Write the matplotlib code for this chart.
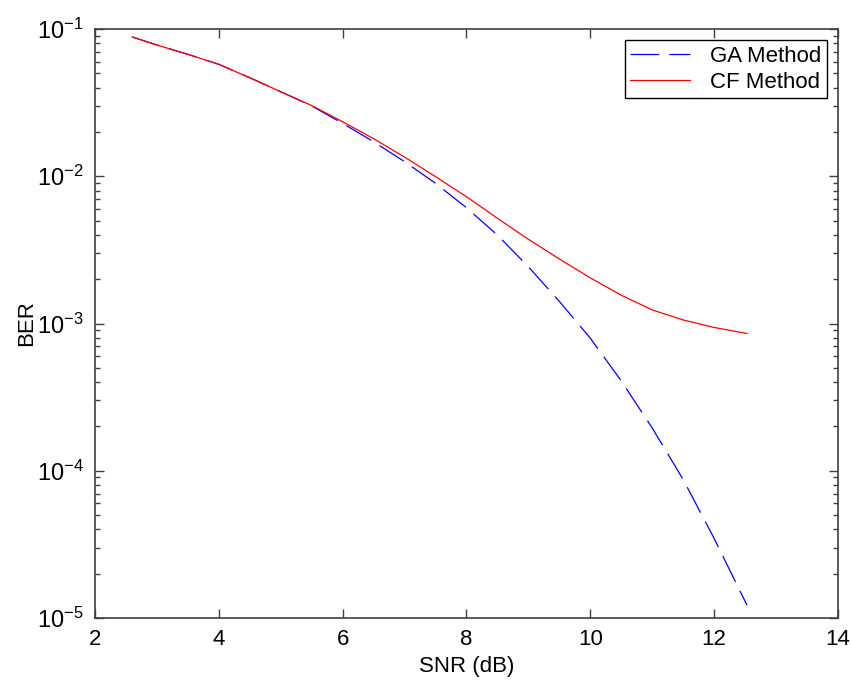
import matplotlib
matplotlib.use("Agg")
import matplotlib.pyplot as plt
import numpy as np
from matplotlib.ticker import LogLocator, FixedLocator

plt.rcParams['font.family'] = ['Liberation Sans', 'DejaVu Sans']
plt.rcParams['mathtext.fontset'] = 'custom'
plt.rcParams['mathtext.rm'] = 'Liberation Sans'
plt.rcParams['mathtext.it'] = 'Liberation Sans:italic'
plt.rcParams['mathtext.bf'] = 'Liberation Sans:bold'

# SNR (dB) sample points
snr_ga = [2.6, 3.0, 3.5, 4.0, 4.5, 5.0, 5.5, 6.0, 6.5, 7.0, 7.5, 8.0, 8.5,
          9.0, 9.5, 10.0, 10.5, 11.0, 11.5, 12.0, 12.53]
log_ber_ga = [-1.054, -1.109, -1.172, -1.240, -1.331, -1.426, -1.523, -1.641,
              -1.766, -1.901, -2.048, -2.214, -2.400, -2.615, -2.850, -3.100,
              -3.390, -3.710, -4.060, -4.460, -4.913]

snr_cf = [2.6, 3.0, 3.5, 4.0, 4.5, 5.0, 5.5, 6.0, 6.5, 7.0, 7.5, 8.0, 8.5,
          9.0, 9.5, 10.0, 10.5, 11.0, 11.5, 12.0, 12.53]
log_ber_cf = [-1.054, -1.109, -1.172, -1.240, -1.331, -1.426, -1.520, -1.630,
              -1.745, -1.870, -2.003, -2.139, -2.286, -2.428, -2.562, -2.690,
              -2.808, -2.908, -2.976, -3.027, -3.068]

ber_ga = [10 ** v for v in log_ber_ga]
ber_cf = [10 ** v for v in log_ber_cf]

x_ticks = [2, 4, 6, 8, 10, 12, 14]
y_ticks = [1e-5, 1e-4, 1e-3, 1e-2, 1e-1]
y_tick_labels = [r'$10^{-5}$', r'$10^{-4}$', r'$10^{-3}$', r'$10^{-2}$', r'$10^{-1}$']

fig = plt.figure(figsize=(8.51, 6.81), dpi=100)
ax = fig.add_axes([95 / 851, 1 - 618 / 681, (838 - 95) / 851, (618 - 29) / 681])

ax.semilogy(snr_ga, ber_ga, color=(0, 0, 1), lw=0.9, dashes=(23, 8), label='GA Method')
ax.semilogy(snr_cf, ber_cf, color=(1, 0, 0), lw=0.9, label='CF Method')

ax.set_xlim(2, 14)
ax.set_ylim(1e-5, 1e-1)
ax.xaxis.set_major_locator(FixedLocator(x_ticks))
ax.set_xticklabels([str(t) for t in x_ticks])
ax.yaxis.set_minor_locator(LogLocator(base=10, subs=np.arange(2, 10), numticks=20))
ax.set_yticks(y_ticks)
ax.set_yticklabels(y_tick_labels)

spine_c = '#404040'
for s in ax.spines.values():
    s.set_color(spine_c)
    s.set_linewidth(1.2)
ax.tick_params(which='both', direction='in', top=True, right=True, colors=spine_c,
               labelcolor='black')
ax.tick_params(axis='x', labelsize=16)
ax.tick_params(axis='y', labelsize=17)
ax.tick_params(which='major', length=6.5, width=1.0, pad=8)
ax.tick_params(which='minor', length=3.6, width=1.0)
ax.tick_params(axis='x', which='minor', bottom=False, top=False)
for lab in ax.get_yticklabels():
    lab.set_verticalalignment('center_baseline')

ax.set_xlabel('SNR (dB)', fontsize=16)
ax.set_ylabel('BER', fontsize=16)
ax.yaxis.set_label_coords(-0.078, 0.5)
ax.xaxis.set_label_coords(0.5, -0.064)

leg = ax.legend(loc='upper right', fontsize=16, frameon=True, fancybox=False,
                edgecolor='black', framealpha=1, borderaxespad=0.5,
                handlelength=2.7, handletextpad=0.9, labelspacing=0.22,
                borderpad=0.25)
leg.get_frame().set_linewidth(1.0)

fig.savefig('out.png', dpi=100)
